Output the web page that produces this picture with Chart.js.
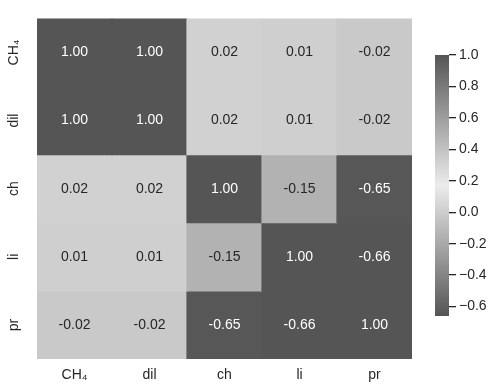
<!DOCTYPE html>
<html>
<head>
<meta charset="utf-8">
<script src="https://cdn.jsdelivr.net/npm/chart.js@4"></script>
<style>
  html, body { margin: 0; padding: 0; background: #fff; }
  #wrap { position: relative; width: 490px; height: 385px; }
  #heatmap { position: absolute; left: 0; top: 0; }
  #colorbar { position: absolute; left: 420px; top: 0; }
</style>
</head>
<body>
<div id="wrap">
  <canvas id="heatmap" width="420" height="385"></canvas>
  <canvas id="colorbar" width="70" height="385"></canvas>
</div>
<script>
// variable names (same order on both axes)
const labels = ['CH₄', 'dil', 'ch', 'li', 'pr'];

// correlation rows, top to bottom
const corrCH4 = [1.00, 1.00, 0.02, 0.01, -0.02];
const corrDil = [1.00, 1.00, 0.02, 0.01, -0.02];
const corrCh = [0.02, 0.02, 1.00, -0.15, -0.65];
const corrLi = [0.01, 0.01, -0.15, 1.00, -0.66];
const corrPr = [-0.02, -0.02, -0.65, -0.66, 1.00];
const corrRows = [corrCH4, corrDil, corrCh, corrLi, corrPr];

// colorbar tick values
const cbarTicks = [1.0, 0.8, 0.6, 0.4, 0.2, 0.0, -0.2, -0.4, -0.6];

const allValues = corrRows.flat();
const vmin = Math.min(...allValues);
const vmax = Math.max(...allValues);

const FONT = { family: "'Liberation Sans', Arial, sans-serif", size: 14 };
const TEXT = '#262626';

// grey diverging map: dark at both ends, light in the middle
function grayLevel(v) {
    const t = (v - vmin) / (vmax - vmin);
    return Math.round(85 + (236 - 85) * (1 - Math.abs(2 * t - 1)));
}
function grayFor(v) {
    const g = grayLevel(v);
    return `rgb(${g},${g},${g})`;
}

const annotate = {
    id: 'annotate',
    afterDatasetsDraw(chart) {
        const ctx = chart.ctx;
        ctx.save();
        ctx.font = `${FONT.size}px ${FONT.family}`;
        ctx.textAlign = 'center';
        ctx.textBaseline = 'middle';
        chart.data.datasets.forEach((ds, i) => {
            chart.getDatasetMeta(i).data.forEach((bar, j) => {
                const v = corrRows[i][j];
                ctx.fillStyle = grayLevel(v) < 130 ? '#ffffff' : TEXT;
                ctx.fillText(v.toFixed(2), bar.x, (bar.y + bar.base) / 2);
            });
        });
        ctx.restore();
    }
};

new Chart(document.getElementById('heatmap'), {
    type: 'bar',
    data: {
        labels: labels,
        datasets: corrRows.map((row, i) => ({
            label: labels[i],
            data: row.map(() => 1),
            backgroundColor: row.map(grayFor),
            borderWidth: 0,
            inflateAmount: 0.6,
            barPercentage: 1,
            categoryPercentage: 1
        }))
    },
    options: {
        responsive: false,
        animation: false,
        layout: { padding: { top: 12, right: 8, left: 0, bottom: 0 } },
        plugins: { legend: { display: false }, tooltip: { enabled: false } },
        scales: {
            x: {
                stacked: true,
                grid: { display: false, drawTicks: false },
                border: { display: false },
                ticks: { font: FONT, color: TEXT, padding: 8, maxRotation: 0 },
                afterFit: (s) => { s.height = 26; }
            },
            y: {
                stacked: true,
                reverse: true,
                min: 0,
                max: labels.length,
                grid: { display: false, drawTicks: false },
                border: { display: false },
                afterBuildTicks: (s) => { s.ticks = labels.map((_, i) => ({ value: i + 0.5 })); },
                ticks: {
                    font: FONT,
                    color: TEXT,
                    minRotation: 90,
                    maxRotation: 90,
                    crossAlign: 'center',
                    padding: 10,
                    callback: (v, i) => labels[i]
                },
                afterFit: (s) => { s.width = 37; }
            }
        }
    },
    plugins: [annotate]
});

new Chart(document.getElementById('colorbar'), {
    type: 'bar',
    data: {
        labels: [''],
        datasets: [{
            data: [[vmin, vmax]],
            backgroundColor: (c) => {
                const chart = c.chart;
                if (!chart.chartArea) return null;
                const y = chart.scales.y;
                const g = chart.ctx.createLinearGradient(0, y.getPixelForValue(vmin), 0, y.getPixelForValue(vmax));
                g.addColorStop(0, grayFor(vmin));
                g.addColorStop(0.5, grayFor((vmin + vmax) / 2));
                g.addColorStop(1, grayFor(vmax));
                return g;
            },
            borderWidth: 0,
            barPercentage: 1,
            categoryPercentage: 1
        }]
    },
    options: {
        responsive: false,
        animation: false,
        layout: { padding: { top: 55, left: 15, right: 0, bottom: 69 } },
        plugins: { legend: { display: false }, tooltip: { enabled: false } },
        scales: {
            x: { display: false },
            y: {
                position: 'right',
                min: vmin,
                max: vmax,
                afterBuildTicks: (s) => { s.ticks = cbarTicks.map(v => ({ value: v })); },
                ticks: {
                    font: FONT,
                    color: TEXT,
                    padding: 3,
                    callback: (v) => (Math.abs(v) < 1e-9 ? 0 : v).toFixed(1).replace('-', '\u2212')
                },
                grid: { drawOnChartArea: false, drawTicks: true, tickLength: 7, color: TEXT, lineWidth: 1.3 },
                border: { display: false },
                afterFit: (s) => { s.width = 41; }
            }
        }
    }
});
</script>
</body>
</html>
